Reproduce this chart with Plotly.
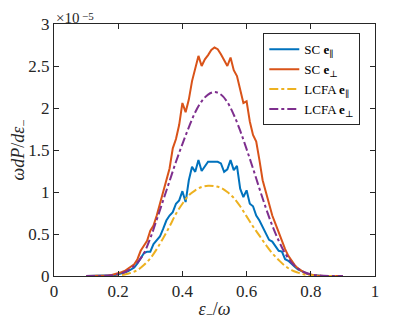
import plotly.graph_objects as go

# SC spectra, eps/omega from 0.10 to 0.90 step 0.01, values in units of 1e-5
eps_sc = [round(0.10 + 0.01 * i, 2) for i in range(81)]
sc_par = [0, 0, 0, 0, 0.001, 0.002, 0.003, 0.005, 0.008, 0.013,
          0.02, 0.03, 0.04, 0.055, 0.08, 0.10, 0.15, 0.21, 0.27, 0.29,
          0.29, 0.38, 0.42, 0.47, 0.56, 0.66, 0.72, 0.76, 0.86, 0.90,
          1.01, 0.88, 1.14, 1.30, 1.24, 1.38, 1.25, 1.30, 1.36, 1.36,
          1.36, 1.36, 1.34, 1.24, 1.27, 1.38, 1.26, 1.31, 1.04, 0.94,
          1.02, 0.86, 0.83, 0.72, 0.66, 0.58, 0.50, 0.43, 0.41, 0.36,
          0.30, 0.29, 0.20, 0.18, 0.14, 0.11, 0.08, 0.06, 0.04, 0.025,
          0.015, 0.008, 0.004, 0.002, 0.001, 0, 0, 0, 0, 0, 0]
sc_perp = [0, 0, 0, 0, 0.001, 0.002, 0.004, 0.007, 0.012, 0.02,
           0.03, 0.045, 0.06, 0.085, 0.12, 0.14, 0.20, 0.30, 0.36, 0.42,
           0.54, 0.60, 0.72, 0.86, 0.97, 1.13, 1.28, 1.52, 1.63, 1.80,
           2.06, 1.95, 2.10, 2.32, 2.48, 2.62, 2.50, 2.58, 2.63, 2.69,
           2.72, 2.70, 2.64, 2.56, 2.50, 2.60, 2.45, 2.38, 2.22, 2.06,
           2.08, 1.84, 1.68, 1.60, 1.38, 1.14, 1.00, 0.85, 0.72, 0.62,
           0.52, 0.40, 0.32, 0.24, 0.18, 0.13, 0.09, 0.06, 0.04, 0.025,
           0.015, 0.008, 0.004, 0.002, 0.001, 0, 0, 0, 0, 0, 0]

# LCFA spectra, step 0.02
eps_lcfa = [round(0.10 + 0.02 * i, 2) for i in range(41)]
lcfa_par = [0, 0, 0, 0.001, 0.003, 0.008, 0.018, 0.038, 0.07, 0.13,
            0.21, 0.32, 0.45, 0.59, 0.74, 0.86, 0.96, 1.02, 1.06, 1.075,
            1.07, 1.05, 1.00, 0.93, 0.83, 0.71, 0.59, 0.48, 0.37, 0.27,
            0.19, 0.12, 0.07, 0.04, 0.018, 0.008, 0.003, 0.001, 0, 0, 0]
lcfa_perp = [0, 0, 0, 0.002, 0.008, 0.02, 0.045, 0.09, 0.16, 0.27,
             0.45, 0.67, 0.90, 1.13, 1.36, 1.57, 1.77, 1.95, 2.08, 2.16,
             2.19, 2.16, 2.07, 1.92, 1.73, 1.51, 1.28, 1.04, 0.81, 0.60,
             0.42, 0.27, 0.16, 0.09, 0.045, 0.02, 0.008, 0.002, 0, 0, 0]

serif = "Liberation Serif, DejaVu Serif, serif"
axcol = "#262626"

fig = go.Figure()
fig.add_trace(go.Scatter(x=eps_sc, y=sc_par, mode="lines", name="SC <b>e</b><sub>∥</sub>",
                         line=dict(color="#0072BD", width=2)))
fig.add_trace(go.Scatter(x=eps_sc, y=sc_perp, mode="lines", name="SC <b>e</b><sub>⊥</sub>",
                         line=dict(color="#D95319", width=2)))
fig.add_trace(go.Scatter(x=eps_lcfa, y=lcfa_par, mode="lines", name="LCFA <b>e</b><sub>∥</sub>",
                         line=dict(color="#EDB120", width=2, dash="dashdot", shape="spline")))
fig.add_trace(go.Scatter(x=eps_lcfa, y=lcfa_perp, mode="lines", name="LCFA <b>e</b><sub>⊥</sub>",
                         line=dict(color="#7E2F8E", width=2, dash="dashdot", shape="spline")))

axis_common = dict(showline=True, linecolor=axcol, linewidth=1, mirror="ticks",
                   ticks="inside", ticklen=5, tickcolor=axcol, showgrid=False, zeroline=False,
                   automargin=False,
                   tickfont=dict(family=serif, size=17, color=axcol))

fig.update_xaxes(range=[0, 1], tickvals=[0, 0.2, 0.4, 0.6, 0.8, 1],
                 ticktext=["0", "0.2", "0.4", "0.6", "0.8", "1"],
                 title=dict(text="<i>ε</i><sub>−</sub>/<i>ω</i>", standoff=2,
                            font=dict(family=serif, size=18, color=axcol)),
                 **axis_common)
fig.update_yaxes(range=[0, 3], tickvals=[0, 0.5, 1, 1.5, 2, 2.5, 3],
                 ticktext=["0", "0.5", "1", "1.5", "2", "2.5", "3"],
                 title=dict(text="<i>ωdP</i>/<i>dε</i><sub>−</sub>", standoff=6,
                            font=dict(family=serif, size=18, color=axcol)),
                 **axis_common)

# exponent label above the y axis
fig.add_annotation(text="×10", xref="paper", yref="paper", x=0, y=1.0635,
                   xanchor="left", yanchor="top", showarrow=False,
                   font=dict(family=serif, size=15, color=axcol))
fig.add_annotation(text="−5", xref="paper", yref="paper", x=0.08, y=1.0635,
                   xanchor="left", yanchor="top", showarrow=False,
                   font=dict(family=serif, size=11, color=axcol))

# page body has an 8px margin, so the figure is sized to fit the 415x322 window
fig.update_layout(
    width=407, height=314,
    margin=dict(l=46, r=40, t=16, b=46),
    plot_bgcolor="white", paper_bgcolor="white",
    showlegend=True,
    legend=dict(x=0.652, y=0.963, xanchor="left", yanchor="top",
                bgcolor="white", bordercolor=axcol, borderwidth=1,
                font=dict(family=serif, size=13, color="black"),
                tracegroupgap=0, itemwidth=30),
)

fig.write_html("out.html")
